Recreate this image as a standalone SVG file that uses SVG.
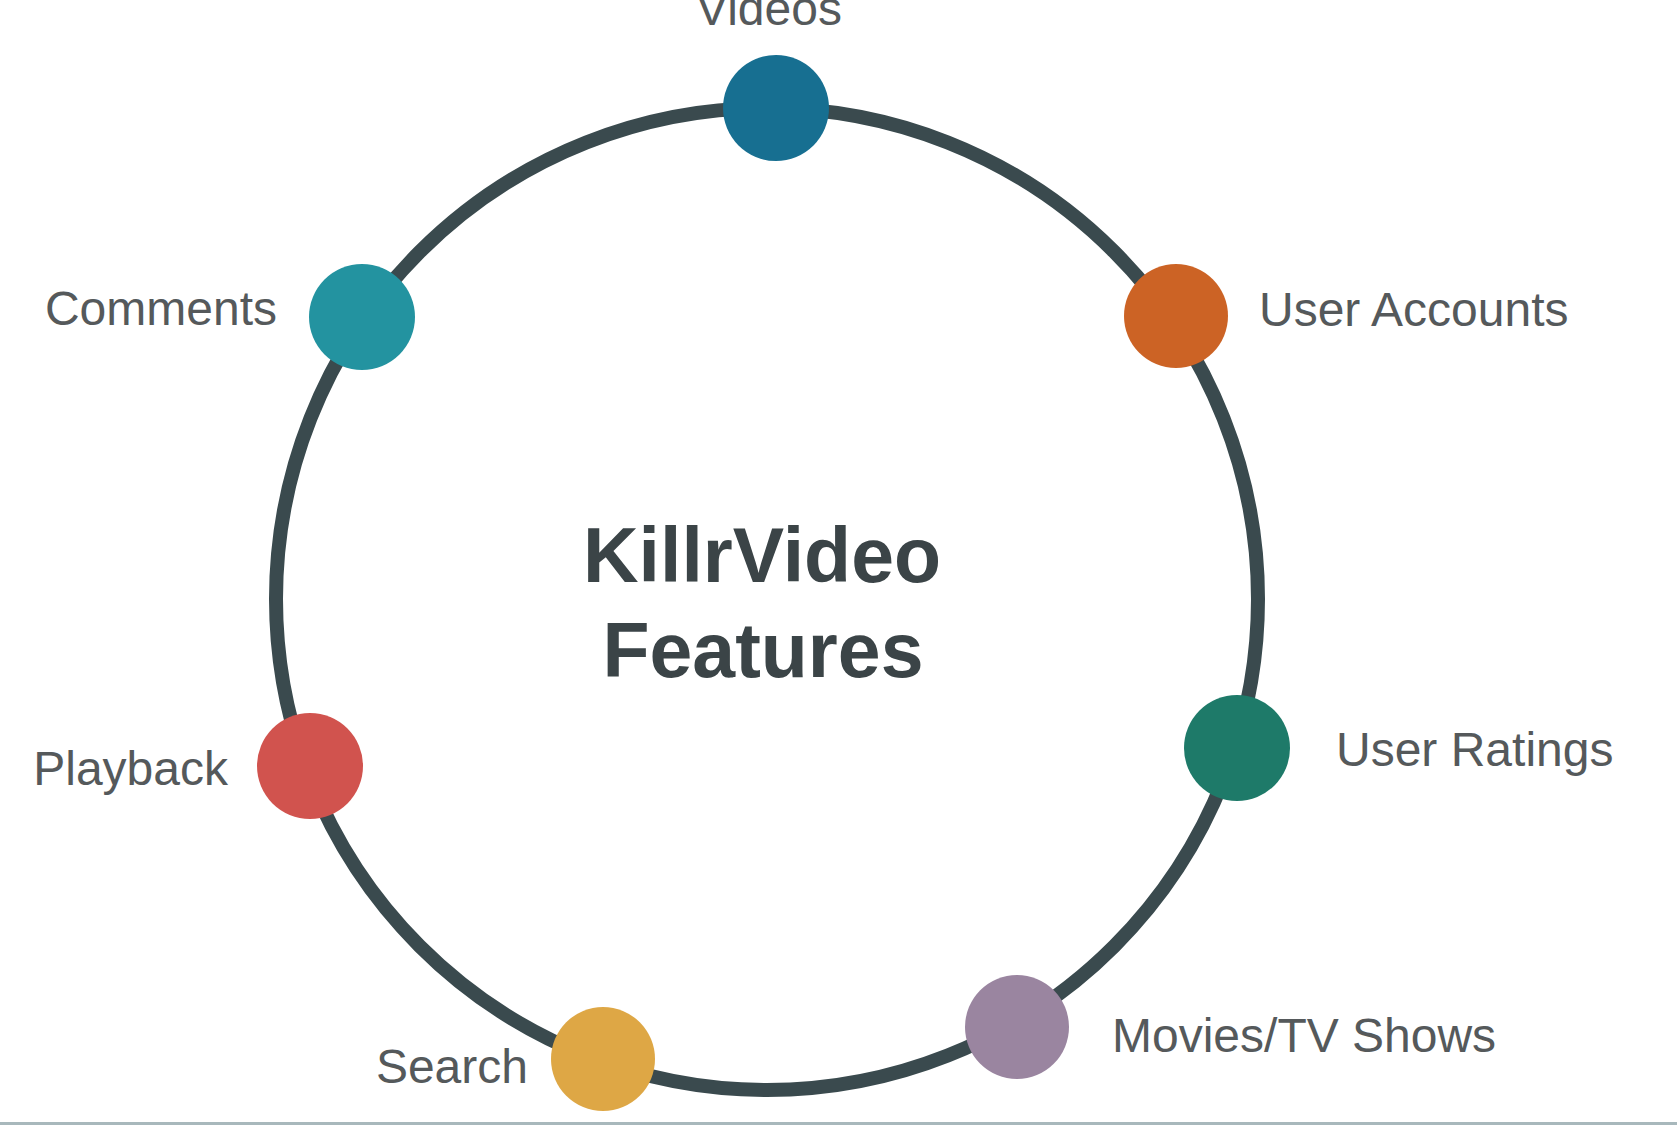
<svg xmlns="http://www.w3.org/2000/svg" width="1677" height="1125" viewBox="0 0 1677 1125">
<style>
.ring{fill:none;stroke:#3a4a4e;stroke-width:14}
.dot{stroke:none}
.lbl{font-family:"Liberation Sans",Arial,sans-serif;font-size:48px;fill:#55595b}
.title{font-family:"Liberation Sans",Arial,sans-serif;font-size:77px;font-weight:bold;fill:#3b4447;text-anchor:middle}
</style>
<rect x="0" y="0" width="1677" height="1125" fill="#ffffff"/>
<g id="connectors">
<circle class="ring" cx="767" cy="599" r="491"/>
</g>
<g id="title">
<text class="title" x="762" y="582">KillrVideo</text>
<text class="title" x="763" y="677">Features</text>
</g>
<g id="node-videos">
<circle class="dot" cx="776" cy="108" r="53" fill="#176f91"/>
<text class="lbl" x="769" y="25" text-anchor="middle">Videos</text>
</g>
<g id="node-user-accounts">
<circle class="dot" cx="1176" cy="316" r="52" fill="#cc6325"/>
<text class="lbl" x="1259" y="326">User Accounts</text>
</g>
<g id="node-user-ratings">
<circle class="dot" cx="1237" cy="748" r="53" fill="#1e7a69"/>
<text class="lbl" x="1336" y="766">User Ratings</text>
</g>
<g id="node-movies">
<circle class="dot" cx="1017" cy="1027" r="52" fill="#9a85a0"/>
<text class="lbl" x="1112" y="1052">Movies/TV Shows</text>
</g>
<g id="node-search">
<circle class="dot" cx="603" cy="1059" r="52" fill="#dea745"/>
<text class="lbl" x="528" y="1083" text-anchor="end">Search</text>
</g>
<g id="node-playback">
<circle class="dot" cx="310" cy="766" r="53" fill="#d1534e"/>
<text class="lbl" x="228" y="785" text-anchor="end">Playback</text>
</g>
<g id="node-comments">
<circle class="dot" cx="362" cy="317" r="53" fill="#2393a0"/>
<text class="lbl" x="277" y="325" text-anchor="end">Comments</text>
</g>
<rect x="0" y="1122" width="1677" height="3" fill="#a8b8bc"/>
</svg>
